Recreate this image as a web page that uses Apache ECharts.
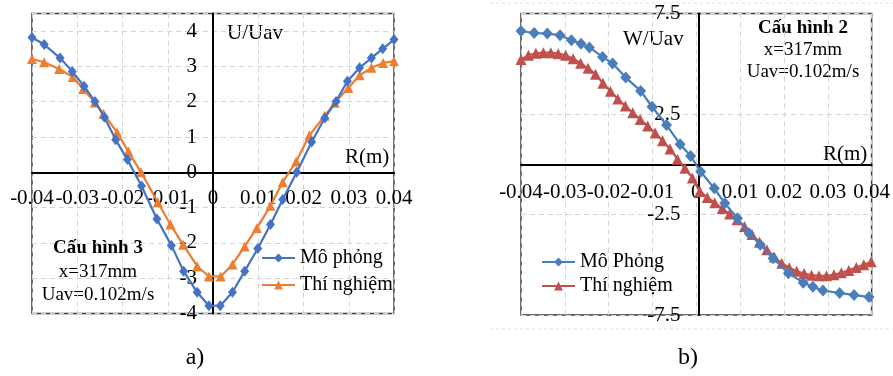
<!DOCTYPE html>
<html>
<head>
<meta charset="utf-8">
<script src="https://cdn.jsdelivr.net/npm/echarts@6/dist/echarts.min.js"></script>
<style>
html,body{margin:0;padding:0;background:#fff;}
#c{width:893px;height:376px;}
</style>
</head>
<body>
<div id="c"></div>
<script>
// ---- Chart a) U/Uav ----
const aSimR = [-0.04, -0.0373, -0.0338, -0.0311, -0.0285, -0.0261, -0.0240, -0.0215, -0.0189, -0.0158, -0.0124, -0.0092, -0.0065, -0.0035, -0.0009, 0.0016, 0.0043, 0.0070, 0.0099, 0.0127, 0.0154, 0.0185, 0.0218, 0.0247, 0.0272, 0.0297, 0.0324, 0.0350, 0.0375, 0.0400];
const aSimU = [3.82, 3.62, 3.24, 2.86, 2.44, 2.01, 1.56, 0.92, 0.36, -0.39, -1.32, -2.07, -2.80, -3.40, -3.78, -3.78, -3.40, -2.80, -2.16, -1.48, -0.77, 0.00, 0.86, 1.54, 2.01, 2.58, 2.96, 3.24, 3.50, 3.76];
const aExpR = [-0.04, -0.0373, -0.0340, -0.0310, -0.0287, -0.0261, -0.0242, -0.0212, -0.0187, -0.0159, -0.0122, -0.0094, -0.0066, -0.0035, -0.0009, 0.0017, 0.0043, 0.0070, 0.0097, 0.0127, 0.0154, 0.0184, 0.0213, 0.0247, 0.0269, 0.0299, 0.0324, 0.0350, 0.0376, 0.0400];
const aExpU = [3.21, 3.12, 2.93, 2.70, 2.36, 1.98, 1.66, 1.13, 0.59, 0.00, -0.85, -1.48, -2.05, -2.66, -2.95, -2.95, -2.61, -2.10, -1.58, -0.95, -0.28, 0.31, 1.05, 1.60, 1.97, 2.39, 2.75, 2.96, 3.10, 3.15];

// ---- Chart b) W/Uav ----
const bSimR = [-0.04, -0.0370, -0.0340, -0.0311, -0.0285, -0.0263, -0.0244, -0.0214, -0.0191, -0.0161, -0.0127, -0.0101, -0.0068, -0.0037, -0.0013, 0.0010, 0.0041, 0.0065, 0.0094, 0.0120, 0.0146, 0.0175, 0.0210, 0.0244, 0.0266, 0.0289, 0.0327, 0.0360, 0.0394];
const bSimW = [6.63, 6.53, 6.50, 6.42, 6.17, 6.00, 5.81, 5.34, 5.01, 4.31, 3.65, 2.86, 1.95, 1.00, 0.41, -0.37, -1.20, -1.94, -2.69, -3.43, -4.01, -4.68, -5.42, -5.89, -6.10, -6.28, -6.41, -6.50, -6.61];
const bExpR = [-0.0400, -0.0383, -0.0366, -0.0349, -0.0332, -0.0315, -0.0298, -0.0281, -0.0264, -0.0247, -0.0230, -0.0213, -0.0196, -0.0179, -0.0162, -0.0145, -0.0128, -0.0111, -0.0094, -0.0077, -0.0060, -0.0043, -0.0026, -0.0009, 0.0008, 0.0025, 0.0042, 0.0059, 0.0076, 0.0093, 0.0110, 0.0127, 0.0144, 0.0161, 0.0178, 0.0195, 0.0212, 0.0229, 0.0246, 0.0263, 0.0280, 0.0297, 0.0314, 0.0331, 0.0348, 0.0365, 0.0382, 0.0399];
const bExpW = [5.21, 5.42, 5.52, 5.55, 5.55, 5.50, 5.42, 5.25, 5.03, 4.77, 4.48, 4.03, 3.63, 3.25, 2.90, 2.56, 2.23, 1.90, 1.56, 1.17, 0.76, 0.25, -0.20, -0.68, -1.35, -1.65, -1.92, -2.20, -2.48, -2.76, -3.10, -3.50, -3.88, -4.25, -4.62, -4.93, -5.15, -5.32, -5.44, -5.52, -5.55, -5.55, -5.50, -5.40, -5.28, -5.14, -5.00, -4.85];

const seriesNames = ['Mô phỏng', 'Thí nghiệm', 'Mô Phỏng', 'Thí nghiệm '];
const zip = (xs, ys) => xs.map((x, i) => [x, ys[i]]);

// axis ranges
const aX = { min: -0.04, max: 0.04, interval: 0.01 };
const aY = { min: -4, max: 4.5, interval: 1 };
const bX = { min: -0.04, max: 0.04, interval: 0.01 };
const bY = { min: -7.5, max: 7.5, interval: 5 };

const SERIF = 'Liberation Serif';
const axisLbl = (margin) => ({ fontFamily: SERIF, fontSize: 21, color: '#000', margin: margin });

// grid boxes (layout)
const gA = { left: 32, top: 13.5, width: 362, height: 300 };
const gB = { left: 521, top: 13.5, width: 355, height: 301.5 };

// offsets that put each axis on the other axis's zero
const zeroOffX = (g, y) => -g.height * (0 - y.min) / (y.max - y.min);
const zeroOffY = (g, x) => -g.width * (0 - x.min) / (x.max - x.min);

const chart = echarts.init(document.getElementById('c'), null, { renderer: 'canvas' });

const gridStyle = { show: true, borderColor: '#3c3c3c', borderWidth: 1.5, backgroundColor: 'transparent' };
const split = { show: true, lineStyle: { color: '#d4d4d4', type: [5, 4], width: 1 } };
const blackLine = { show: true, onZero: false, lineStyle: { color: '#000', width: 2 } };
const legendText = { fontFamily: SERIF, fontSize: 20, color: '#000', lineHeight: 20 };

const option = {
  animation: false,
  backgroundColor: '#fff',
  textStyle: { fontFamily: SERIF },
  grid: [Object.assign({}, gA, gridStyle), Object.assign({}, gB, gridStyle)],
  xAxis: [
    Object.assign({ gridIndex: 0, type: 'value', position: 'bottom', offset: zeroOffX(gA, aY),
      axisLine: blackLine, axisTick: { show: false }, axisLabel: axisLbl(16), splitLine: split }, aX),
    Object.assign({ gridIndex: 1, type: 'value', position: 'bottom', offset: zeroOffX(gB, bY),
      axisLine: blackLine, axisTick: { show: false }, axisLabel: axisLbl(18), splitLine: split }, bX)
  ],
  yAxis: [
    Object.assign({ gridIndex: 0, type: 'value', position: 'left', offset: zeroOffY(gA, aX),
      axisLine: blackLine, axisTick: { show: false },
      axisLabel: Object.assign(axisLbl(16), { formatter: v => (v > 4.2 ? '' : String(v)) }),
      splitLine: split }, aY),
    Object.assign({ gridIndex: 1, type: 'value', position: 'left', offset: zeroOffY(gB, bX),
      axisLine: blackLine, axisTick: { show: false }, axisLabel: axisLbl(18), splitLine: split }, bY)
  ],
  legend: [
    {
      orient: 'vertical', left: 261, top: 248, padding: 0, itemWidth: 33, itemHeight: 11, itemGap: 7,
      textStyle: legendText,
      data: [seriesNames[0], seriesNames[1]]
    },
    {
      orient: 'vertical', left: 541, top: 252, padding: 0, itemWidth: 33, itemHeight: 11, itemGap: 4,
      textStyle: legendText, formatter: n => n.trim(),
      data: [seriesNames[2], seriesNames[3]]
    }
  ],
  series: [
    {
      name: seriesNames[0], type: 'line', xAxisIndex: 0, yAxisIndex: 0,
      data: zip(aSimR, aSimU), symbol: 'diamond', symbolSize: [9, 11],
      lineStyle: { color: '#4472C4', width: 2.2 }, itemStyle: { color: '#4472C4' }, z: 3
    },
    {
      name: seriesNames[1], type: 'line', xAxisIndex: 0, yAxisIndex: 0,
      data: zip(aExpR, aExpU), symbol: 'triangle', symbolSize: 10,
      lineStyle: { color: '#ED7D31', width: 2.2 }, itemStyle: { color: '#ED7D31' }, z: 2
    },
    {
      name: seriesNames[2], type: 'line', xAxisIndex: 1, yAxisIndex: 1,
      data: zip(bSimR, bSimW), symbol: 'diamond', symbolSize: [11, 12],
      lineStyle: { color: '#4A7EBB', width: 2.2 }, itemStyle: { color: '#4A7EBB' }, z: 3
    },
    {
      name: seriesNames[3], type: 'line', xAxisIndex: 1, yAxisIndex: 1,
      data: zip(bExpR, bExpW), symbol: 'triangle', symbolSize: 11,
      lineStyle: { color: '#C0504D', width: 2.2 }, itemStyle: { color: '#C0504D' }, z: 2
    }
  ],
  graphic: [
    { type: 'text', x: 227, y: 33, style: { text: 'U/Uav', font: '21px ' + SERIF, fill: '#000', verticalAlign: 'middle' } },
    { type: 'text', x: 345, y: 157, style: { text: 'R(m)', font: '21px ' + SERIF, fill: '#000', verticalAlign: 'middle' } },
    { type: 'text', x: 98, y: 248, style: { text: 'Cấu hình 3', font: 'bold 19px ' + SERIF, fill: '#000', align: 'center', verticalAlign: 'middle' } },
    { type: 'text', x: 98, y: 272, style: { text: 'x=317mm', font: '19px ' + SERIF, fill: '#000', align: 'center', verticalAlign: 'middle' } },
    { type: 'text', x: 98, y: 295, style: { text: 'Uav=0.102m/s', font: '19px ' + SERIF, fill: '#000', align: 'center', verticalAlign: 'middle' } },
    { type: 'text', x: 623, y: 39, style: { text: 'W/Uav', font: '21px ' + SERIF, fill: '#000', verticalAlign: 'middle' } },
    { type: 'text', x: 823, y: 154, style: { text: 'R(m)', font: '21px ' + SERIF, fill: '#000', verticalAlign: 'middle' } },
    { type: 'text', x: 803, y: 28, style: { text: 'Cấu hình 2', font: 'bold 19px ' + SERIF, fill: '#000', align: 'center', verticalAlign: 'middle' } },
    { type: 'text', x: 803, y: 50, style: { text: 'x=317mm', font: '19px ' + SERIF, fill: '#000', align: 'center', verticalAlign: 'middle' } },
    { type: 'text', x: 803, y: 72, style: { text: 'Uav=0.102m/s', font: '19px ' + SERIF, fill: '#000', align: 'center', verticalAlign: 'middle' } },
    { type: 'text', x: 195, y: 358, style: { text: 'a)', font: '24px ' + SERIF, fill: '#000', align: 'center', verticalAlign: 'middle' } },
    { type: 'text', x: 688, y: 358, style: { text: 'b)', font: '24px ' + SERIF, fill: '#000', align: 'center', verticalAlign: 'middle' } },
    { type: 'line', shape: { x1: 490, y1: 3, x2: 893, y2: 3 }, style: { stroke: '#e4e4da', lineWidth: 1, lineDash: [3, 3] } },
    { type: 'line', shape: { x1: 490, y1: 329, x2: 893, y2: 329 }, style: { stroke: '#e4e4da', lineWidth: 1, lineDash: [3, 3] } }
  ]
};
chart.setOption(option);
</script>
</body>
</html>
